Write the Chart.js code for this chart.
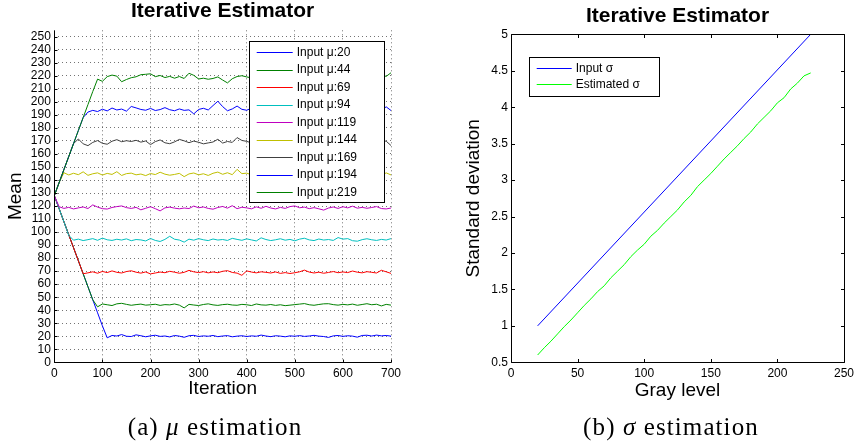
<!DOCTYPE html>
<html lang="en">
<head>
<meta charset="UTF-8">
<title>Iterative Estimator</title>
<script src="https://cdn.jsdelivr.net/npm/chart.js"></script>
<style>
  html, body { margin: 0; padding: 0; background: #fff; }
  #page { position: relative; width: 858px; height: 447px; overflow: hidden; }
  canvas { position: absolute; top: 0; }
  #muChart { left: 0; }
  #sigmaChart { left: 430px; }
  .caption { position: absolute; top: 414px; font-family: "Liberation Serif", "Times New Roman", serif;
             font-size: 25px; line-height: 25px; white-space: nowrap; transform: translateX(-50%); letter-spacing: 1.1px; }
</style>
</head>
<body>
<div id="page">
  <canvas id="muChart" width="430" height="420"></canvas>
  <canvas id="sigmaChart" width="428" height="420"></canvas>
  <div class="caption" style="left:215px">(a) <i>μ</i> estimation</div>
  <div class="caption" style="left:671px">(b) <i>σ</i> estimation</div>
</div>

<script>
// ---- (a) mean estimation, sampled every 10 iterations ----
const iterations = [
  0, 10, 20, 30, 40, 50, 60, 70, 80, 90,
  100, 110, 120, 130, 140, 150, 160, 170, 180, 190,
  200, 210, 220, 230, 240, 250, 260, 270, 280, 290,
  300, 310, 320, 330, 340, 350, 360, 370, 380, 390,
  400, 410, 420, 430, 440, 450, 460, 470, 480, 490,
  500, 510, 520, 530, 540, 550, 560, 570, 580, 590,
  600, 610, 620, 630, 640, 650, 660, 670, 680, 690,
  700
];
const inputMeans = [20, 44, 69, 94, 119, 144, 169, 194, 219];

const mean20 = [
  128, 118, 108, 98, 88, 78, 68, 58, 48, 38,
  28, 18.8, 20.6, 20.2, 21.3, 20.0, 19.8, 21.1, 20.4, 19.6,
  20.3, 20.8, 19.9, 20.2, 19.5, 20.6, 20.1, 19.2, 20.4, 20.7,
  19.8, 20.3, 20.0, 20.6, 19.7, 20.2, 20.5, 19.6, 20.1, 20.4,
  19.8, 20.3, 20.0, 20.9, 20.2, 19.7, 20.4, 20.1, 19.6, 20.3,
  20.0, 20.5, 19.9, 20.2, 20.7, 20.1, 19.8, 19.1, 20.3, 20.6,
  19.9, 20.4, 20.1, 19.3, 20.6, 20.8, 20.2, 20.9, 20.3, 20.6,
  20.1
];
const mean44 = [
  128, 118, 108, 98, 88, 78, 68, 58, 48, 42.6,
  44.8, 44.2, 43.6, 44.9, 45.3, 44.5, 43.8, 44.3, 44.7, 43.9,
  44.2, 44.6, 43.7, 44.3, 44.1, 44.8, 43.9, 41.8, 44.5, 44.0,
  43.6, 44.4, 44.9, 44.1, 43.7, 44.3, 44.6, 44.0, 43.8, 44.5,
  44.2, 43.6, 44.8, 44.1, 43.9, 44.4, 43.7, 44.2, 43.5, 43.9,
  44.3, 44.7, 45.1, 44.2, 43.8, 44.4, 44.9, 45.0, 44.3, 43.9,
  44.5, 44.1, 44.7, 43.8, 44.4, 45.0, 44.2, 44.6, 43.3, 44.5,
  43.9
];
const mean69 = [
  128, 118, 108, 98, 88, 78, 68, 68.7, 69.5, 68.4,
  69.8, 68.9, 70.2, 69.1, 68.6, 69.7, 70.3, 69.2, 68.5, 69.4,
  67.9, 68.6, 69.3, 68.8, 69.9, 69.2, 68.4, 69.1, 70.6, 69.5,
  68.9, 69.6, 68.7, 69.4, 68.8, 69.9, 70.4, 69.0, 68.5, 66.8,
  70.2, 69.3, 68.7, 69.5, 69.1, 68.6, 69.4, 68.3, 68.9, 68.2,
  68.8, 69.5, 70.8, 69.3, 68.6, 69.2, 68.4, 69.0, 69.7, 68.8,
  69.4, 68.9, 70.1, 69.2, 68.7, 69.6, 69.1, 68.6, 70.7, 69.5,
  68.3
];
const mean94 = [
  128, 118, 108, 97.5, 93.8, 94.6, 93.5, 94.2, 95.0, 93.7,
  95.4, 94.1, 93.6, 94.5, 93.9, 94.8, 93.4, 94.3, 94.0, 93.2,
  95.1, 93.6, 92.8, 94.4, 96.8, 94.5, 93.9, 92.3, 94.6, 93.8,
  95.0, 94.1, 93.5, 94.7, 93.9, 94.3, 93.6, 95.2, 94.4, 93.7,
  94.8, 94.0, 93.2, 95.6, 94.3, 93.5, 94.1, 94.9, 93.8, 94.4,
  93.3, 94.6, 95.3, 94.0, 93.5, 94.7, 93.9, 94.3, 93.6, 95.8,
  94.6, 95.0, 93.4, 93.0, 94.2, 94.9, 94.1, 93.6, 94.4, 93.9,
  95.0
];
const mean119 = [
  128, 119.5, 118.2, 119.0, 117.8, 118.6, 119.3, 118.1, 120.9, 119.2,
  118.0, 117.7, 118.9, 119.6, 120.1, 118.8, 118.2, 119.0, 117.1, 118.3,
  119.5, 118.0, 116.3, 118.6, 119.2, 118.4, 117.9, 118.5, 118.1, 120.0,
  118.7, 119.3, 118.2, 117.6, 118.9, 119.7, 118.4, 120.3, 118.0, 119.1,
  118.6, 117.9, 119.4, 118.3, 119.8, 118.5, 117.8, 119.0, 118.2, 119.6,
  120.1, 118.7, 119.2, 118.0, 118.8, 117.9, 116.9, 118.5, 119.3, 118.2,
  119.5, 118.6, 119.9, 118.4, 119.0, 118.3, 118.9, 119.6, 118.1, 117.8,
  118.5
];
const mean144 = [
  128, 138, 145.6, 143.9, 145.2, 144.1, 146.3, 143.6, 144.8, 145.5,
  143.8, 145.1, 144.3, 146.4, 143.5, 144.9, 145.3, 144.0, 144.6, 143.4,
  145.0, 144.2, 146.0, 144.5, 143.7, 144.3, 145.1, 142.6, 144.7, 145.4,
  144.0, 144.8, 143.5, 145.2, 146.1, 144.4, 145.6, 144.1, 148.2, 144.9,
  145.3, 144.0, 145.7, 144.6, 145.2, 143.9, 144.5, 146.0, 144.3, 143.6,
  144.8, 145.5, 144.2, 143.7, 144.9, 145.3, 144.0, 145.8, 144.4, 143.8,
  145.1, 144.6, 145.4, 144.0, 143.5, 144.7, 145.2, 144.1, 143.6, 145.5,
  143.9
];
const mean169 = [
  128, 138, 148, 158, 168, 171.5, 167.8, 166.4, 168.9, 170.3,
  168.2, 167.5, 169.8, 171.0, 169.4, 170.2, 169.6, 170.5, 169.1, 170.0,
  167.2, 169.5, 170.8, 168.6, 167.9, 169.3, 171.2, 170.1, 168.7, 169.9,
  169.0, 167.8, 168.5, 169.2, 171.3, 168.4, 169.6, 168.9, 172.6, 170.4,
  169.7, 168.5, 169.8, 170.6, 169.2, 168.4, 169.9, 170.3, 168.8, 169.5,
  170.1, 168.6, 169.4, 170.7, 169.0, 168.3, 169.7, 170.2, 168.9, 169.5,
  170.4, 168.7, 169.3, 170.0, 168.6, 169.8, 170.5, 169.1, 170.4, 169.8,
  166.5
];
const mean194 = [
  128, 138, 148, 158, 168, 178, 188, 192.2, 193.5, 192.6,
  194.4, 193.1, 195.3, 193.8, 194.5, 192.9, 196.5, 195.4, 194.2, 193.6,
  195.0, 193.4, 194.1, 195.6, 194.0, 193.2, 194.6, 193.5, 193.9, 190.8,
  194.2, 195.1, 193.8, 197.2, 200.5, 196.4, 193.2, 194.6, 196.8, 194.3,
  193.6, 195.2, 193.9, 194.6, 195.3, 193.8, 194.4, 195.1, 193.6, 194.7,
  195.5, 194.0, 193.4, 194.9, 195.6, 194.2, 193.7, 194.8, 195.2, 193.9,
  194.5, 195.0, 193.6, 194.3, 195.4, 194.1, 193.5, 194.7, 193.8, 196.2,
  193.4
];
const mean219 = [
  128, 138, 148, 158, 168, 178, 188, 198, 208, 217.5,
  215.8, 219.4, 220.6, 219.8, 215.5, 217.2, 218.6, 219.3, 220.9, 221.2,
  221.6, 219.4, 220.3, 218.7, 219.6, 218.2, 219.5, 218.0, 222.0, 220.4,
  217.6, 218.2, 217.4, 218.0, 219.2, 216.8, 214.6, 217.8, 219.5, 220.1,
  219.2, 218.4, 219.6, 219.0, 218.3, 219.5, 220.1, 218.8, 219.4, 218.2,
  219.7, 220.3, 219.0, 218.5, 219.8, 220.4, 219.1, 218.6, 219.9, 220.5,
  219.2, 218.7, 219.6, 220.2, 218.9, 219.5, 220.8, 219.3, 220.6, 219.6,
  222.4
];
const meanSeries = [mean20, mean44, mean69, mean94, mean119, mean144, mean169, mean194, mean219];
const meanColors = ['#0000ff', '#008000', '#ff0000', '#00bfbf', '#bf00bf', '#bfbf00', '#404040', '#0000ff', '#008000'];
const iterTicks = [0, 100, 200, 300, 400, 500, 600, 700];
const meanTicks = [0, 10, 20, 30, 40, 50, 60, 70, 80, 90, 100, 110, 120, 130, 140, 150, 160, 170, 180, 190, 200, 210, 220, 230, 240, 250];

// ---- (b) sigma estimation ----
const inputSigmaGray = [20, 225];
const inputSigma = [1, 5];
const estGray = [20, 25, 30, 35, 40, 45, 50, 55, 60, 65, 70, 75, 80, 85, 90, 95, 100, 105, 110, 115, 120,
                 125, 130, 135, 140, 145, 150, 155, 160, 165, 170, 175, 180, 185, 190, 195, 200, 205, 210, 215, 220, 225];
const estSigma = [0.60, 0.70, 0.79, 0.89, 0.99, 1.08, 1.18, 1.28, 1.37, 1.47, 1.55, 1.66, 1.75, 1.84, 1.95, 2.04, 2.12,
                  2.23, 2.31, 2.41, 2.50, 2.59, 2.70, 2.79, 2.91, 3.00, 3.09, 3.19, 3.29, 3.38, 3.47, 3.57, 3.66, 3.77,
                  3.86, 3.95, 4.06, 4.13, 4.25, 4.33, 4.43, 4.47];
const grayTicks = [0, 50, 100, 150, 200, 250];
const sigmaTicks = [0.5, 1, 1.5, 2, 2.5, 3, 3.5, 4, 4.5, 5];

Chart.defaults.font.family = '"Liberation Sans", Arial, Helvetica, sans-serif';
Chart.defaults.color = '#000';

const px = v => Math.round(v) + 0.5;

// matlab style axes: solid left/bottom (optionally full box), ticks pointing inward
const axesFrame = {
  id: 'axesFrame',
  afterDraw(chart, args, opts) {
    const { ctx, chartArea: a, scales: { x, y } } = chart;
    const L = opts.tickLen;
    const l = px(a.left), r = px(a.right), t = px(a.top), b = px(a.bottom);
    ctx.save();
    ctx.strokeStyle = '#000';
    ctx.lineWidth = 1;
    ctx.beginPath();
    ctx.moveTo(l, t); ctx.lineTo(l, b); ctx.lineTo(r, b);
    if (opts.box) { ctx.lineTo(r, t); ctx.closePath(); }
    x.ticks.forEach(tk => {
      const xx = px(x.getPixelForValue(tk.value));
      ctx.moveTo(xx, b); ctx.lineTo(xx, b - L);
      if (opts.box) { ctx.moveTo(xx, t); ctx.lineTo(xx, t + L); }
    });
    y.ticks.forEach(tk => {
      const yy = px(y.getPixelForValue(tk.value));
      ctx.moveTo(l, yy); ctx.lineTo(l + L, yy);
      if (opts.box) { ctx.moveTo(r, yy); ctx.lineTo(r - L, yy); }
    });
    ctx.stroke();
    ctx.restore();
  }
};

// boxed legend placed inside the plot area
const boxLegend = {
  id: 'boxLegend',
  afterDraw(chart, args, o) {
    const { ctx, chartArea: a } = chart;
    const bx = a.left + o.x, by = a.top + o.y;
    ctx.save();
    ctx.fillStyle = '#fff';
    ctx.fillRect(bx, by, o.w, o.h);
    ctx.strokeStyle = '#000';
    ctx.lineWidth = 1;
    ctx.strokeRect(px(bx), px(by), Math.round(o.w), Math.round(o.h));
    ctx.font = '12px "Liberation Sans", Arial, sans-serif';
    ctx.textBaseline = 'middle';
    ctx.fillStyle = '#000';
    chart.data.datasets.forEach((ds, i) => {
      const yy = by + o.first + i * o.step;
      ctx.strokeStyle = ds.borderColor;
      ctx.lineWidth = 1.2;
      ctx.beginPath();
      ctx.moveTo(bx + o.line0, px(yy));
      ctx.lineTo(bx + o.line1, px(yy));
      ctx.stroke();
      ctx.fillText(ds.label, bx + o.text, yy);
    });
    ctx.restore();
  }
};

function tickSetter(values) {
  return s => { s.ticks = values.map(v => ({ value: v })); };
}

new Chart(document.getElementById('muChart'), {
  type: 'line',
  data: {
    datasets: meanSeries.map((vals, i) => ({
      label: 'Input μ:' + inputMeans[i],
      data: iterations.map((it, j) => ({ x: it, y: vals[j] })),
      borderColor: meanColors[i],
      borderWidth: 1,
      pointRadius: 0,
      tension: 0,
      order: meanSeries.length - 1 - i
    }))
  },
  options: {
    responsive: false,
    animation: false,
    layout: { padding: { left: 0, right: 39, top: 0, bottom: 0 } },
    scales: {
      x: {
        type: 'linear', min: 0, max: 700,
        afterBuildTicks: tickSetter(iterTicks),
        afterFit: s => { s.height = 420 - 362.3; },
        grid: { color: 'rgba(0,0,0,0.55)', lineWidth: 1, drawTicks: false },
        border: { display: false, dash: [1, 3] },
        ticks: { padding: 4, font: { size: 12 }, maxRotation: 0, autoSkip: false },
        title: { display: true, text: 'Iteration', font: { size: 19 }, padding: { top: 0, bottom: 20.1 } }
      },
      y: {
        type: 'linear', min: 0, max: 255,
        afterBuildTicks: tickSetter(meanTicks),
        afterFit: s => { s.width = 54.3; },
        grid: { color: 'rgba(0,0,0,0.55)', lineWidth: 1, drawTicks: false },
        border: { display: false, dash: [1, 3] },
        ticks: { padding: 3.5, font: { size: 12 }, autoSkip: false },
        title: { display: true, text: 'Mean', font: { size: 19 }, padding: { top: 4.4, bottom: 0 } }
      }
    },
    plugins: {
      legend: { display: false },
      tooltip: { enabled: false },
      title: {
        display: true, text: 'Iterative Estimator', fullSize: false,
        font: { size: 21, weight: 'bold', lineHeight: 1 },
        padding: { top: 1.2, bottom: 8.1 }
      },
      axesFrame: { tickLen: 3, box: false },
      boxLegend: { x: 194.7, y: 10.4, w: 135, h: 161.3, first: 11.6, step: 17.5, line0: 7.7, line1: 43.7, text: 47.7 }
    }
  },
  plugins: [axesFrame, boxLegend]
});

new Chart(document.getElementById('sigmaChart'), {
  type: 'line',
  data: {
    datasets: [
      {
        label: 'Input σ',
        data: inputSigmaGray.map((g, j) => ({ x: g, y: inputSigma[j] })),
        borderColor: '#0000ff', borderWidth: 1, pointRadius: 0, tension: 0
      },
      {
        label: 'Estimated σ',
        data: estGray.map((g, j) => ({ x: g, y: estSigma[j] })),
        borderColor: '#00ff00', borderWidth: 1, pointRadius: 0, tension: 0
      }
    ]
  },
  options: {
    responsive: false,
    animation: false,
    layout: { padding: { left: 0, right: 11.3, top: 0, bottom: 0 } },
    scales: {
      x: {
        type: 'linear', min: 0, max: 250,
        afterBuildTicks: tickSetter(grayTicks),
        afterFit: s => { s.height = 420 - 362.3; },
        grid: { display: false, drawTicks: false },
        border: { display: false },
        ticks: { padding: 4, font: { size: 12 }, maxRotation: 0, autoSkip: false },
        title: { display: true, text: 'Gray level', font: { size: 19 }, padding: { top: 0, bottom: 17.6 } }
      },
      y: {
        type: 'linear', min: 0.5, max: 5,
        afterBuildTicks: tickSetter(sigmaTicks),
        afterFit: s => { s.width = 81; },
        grid: { display: false, drawTicks: false },
        border: { display: false },
        ticks: { padding: 3, font: { size: 12 }, autoSkip: false, callback: v => String(v) },
        title: { display: true, text: 'Standard deviation', font: { size: 19 }, padding: { top: 32.6, bottom: 0 } }
      }
    },
    plugins: {
      legend: { display: false },
      tooltip: { enabled: false },
      title: {
        display: true, text: 'Iterative Estimator', fullSize: false,
        font: { size: 21, weight: 'bold', lineHeight: 1 },
        padding: { top: 5.3, bottom: 8 }
      },
      axesFrame: { tickLen: 3.5, box: true },
      boxLegend: { x: 18, y: 22.4, w: 129.7, h: 39, first: 11.6, step: 16, line0: 7.7, line1: 42.7, text: 46.7 }
    }
  },
  plugins: [axesFrame, boxLegend]
});
</script>
</body>
</html>
